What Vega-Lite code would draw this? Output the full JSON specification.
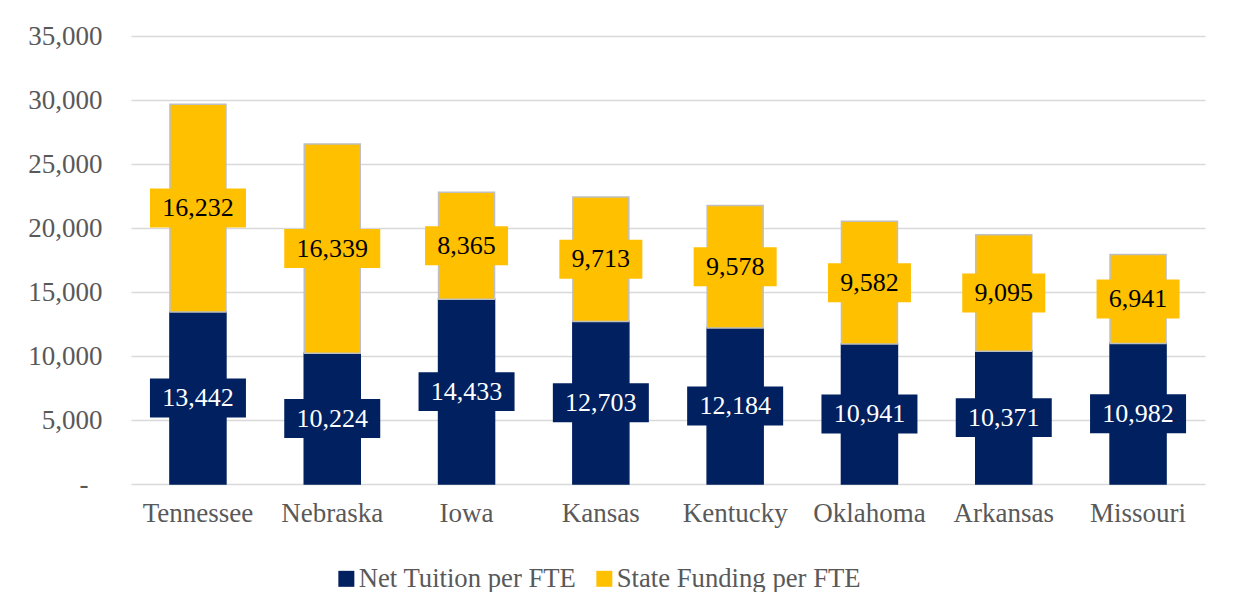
{
  "$schema": "https://vega.github.io/schema/vega-lite/v6.json",
  "width": 1074,
  "height": 448,
  "autosize": {"type": "none"},
  "padding": {"left": 131, "top": 36, "right": 52, "bottom": 108},
  "background": "white",
  "config": {"view": {"stroke": null}, "font": "Liberation Serif"},
  "data": {
    "values": [
      {"state": "Tennessee", "series": "Net Tuition per FTE", "value": 13442},
      {"state": "Tennessee", "series": "State Funding per FTE", "value": 16232},
      {"state": "Nebraska", "series": "Net Tuition per FTE", "value": 10224},
      {"state": "Nebraska", "series": "State Funding per FTE", "value": 16339},
      {"state": "Iowa", "series": "Net Tuition per FTE", "value": 14433},
      {"state": "Iowa", "series": "State Funding per FTE", "value": 8365},
      {"state": "Kansas", "series": "Net Tuition per FTE", "value": 12703},
      {"state": "Kansas", "series": "State Funding per FTE", "value": 9713},
      {"state": "Kentucky", "series": "Net Tuition per FTE", "value": 12184},
      {"state": "Kentucky", "series": "State Funding per FTE", "value": 9578},
      {"state": "Oklahoma", "series": "Net Tuition per FTE", "value": 10941},
      {"state": "Oklahoma", "series": "State Funding per FTE", "value": 9582},
      {"state": "Arkansas", "series": "Net Tuition per FTE", "value": 10371},
      {"state": "Arkansas", "series": "State Funding per FTE", "value": 9095},
      {"state": "Missouri", "series": "Net Tuition per FTE", "value": 10982},
      {"state": "Missouri", "series": "State Funding per FTE", "value": 6941}
    ]
  },
  "transform": [
    {"stack": "value", "groupby": ["state"], "sort": [{"field": "series", "order": "ascending"}], "as": ["v0", "v1"]},
    {"calculate": "(datum.v0 + datum.v1) / 2", "as": "mid"}
  ],
  "encoding": {
    "x": {
      "field": "state",
      "type": "nominal",
      "sort": ["Tennessee", "Nebraska", "Iowa", "Kansas", "Kentucky", "Oklahoma", "Arkansas", "Missouri"],
      "scale": {"paddingInner": 0.583, "paddingOuter": 0.29},
      "axis": {
        "title": null, "domain": false, "ticks": false, "labelAngle": 0,
        "labelFontSize": 27, "labelFont": "Liberation Serif", "labelColor": "#595959",
        "labelPadding": 16, "grid": false
      }
    }
  },
  "layer": [
    {
      "mark": {"type": "bar", "strokeWidth": 1.5},
      "encoding": {
        "y": {
          "field": "v1", "type": "quantitative",
          "scale": {"domain": [0, 35000], "nice": false, "zero": true},
          "axis": {
            "title": null,
            "values": [0, 5000, 10000, 15000, 20000, 25000, 30000, 35000],
            "labelExpr": "datum.value === 0 ? '-' : format(datum.value, ',')",
            "domain": false, "ticks": false, "tickSize": 0,
            "labelPadding": {"condition": {"test": "datum.value === 0", "value": 43}, "value": 29},
            "labelFontSize": 27, "labelFont": "Liberation Serif", "labelColor": "#595959",
            "gridColor": "#D9D9D9", "gridWidth": 1.5
          }
        },
        "y2": {"field": "v0"},
        "color": {
          "field": "series", "type": "nominal",
          "scale": {"domain": ["Net Tuition per FTE", "State Funding per FTE"], "range": ["#002060", "#FFC000"]},
          "legend": {
            "orient": "none", "legendX": 202, "legendY": 529, "direction": "horizontal",
            "title": null, "labelFontSize": 26.7, "labelFont": "Liberation Serif", "labelColor": "#595959",
            "labelLimit": 0,
            "symbolType": "square", "symbolSize": 256, "symbolStrokeWidth": 0,
            "labelOffset": -1, "columnPadding": 14
          }
        },
        "stroke": {
          "condition": {"test": "datum.series === 'State Funding per FTE'", "value": "#BFBFBF"},
          "value": "#002060"
        }
      }
    },
    {
      "mark": {"type": "point", "filled": true, "opacity": 1, "strokeWidth": 0},
      "encoding": {
        "y": {"field": "mid", "type": "quantitative"},
        "fill": {
          "field": "series", "type": "nominal",
          "scale": {"domain": ["Net Tuition per FTE", "State Funding per FTE"], "range": ["#002060", "#FFC000"]},
          "legend": null
        },
        "shape": {"condition": {"test": "datum.value >= 10000", "value": "M-1,-0.406H1V0.406H-1Z"}, "value": "M-1,-0.47H1V0.47H-1Z"},
        "size": {"condition": {"test": "datum.value >= 10000", "value": 9216}, "value": 6889}
      }
    },
    {
      "mark": {"type": "text", "fontSize": 26, "font": "Liberation Serif", "baseline": "middle", "align": "center"},
      "encoding": {
        "y": {"field": "mid", "type": "quantitative"},
        "text": {"field": "value", "type": "quantitative", "format": ","},
        "color": {"condition": {"test": "datum.series === 'Net Tuition per FTE'", "value": "#FFFFFF"}, "value": "#000000"}
      }
    }
  ]
}
